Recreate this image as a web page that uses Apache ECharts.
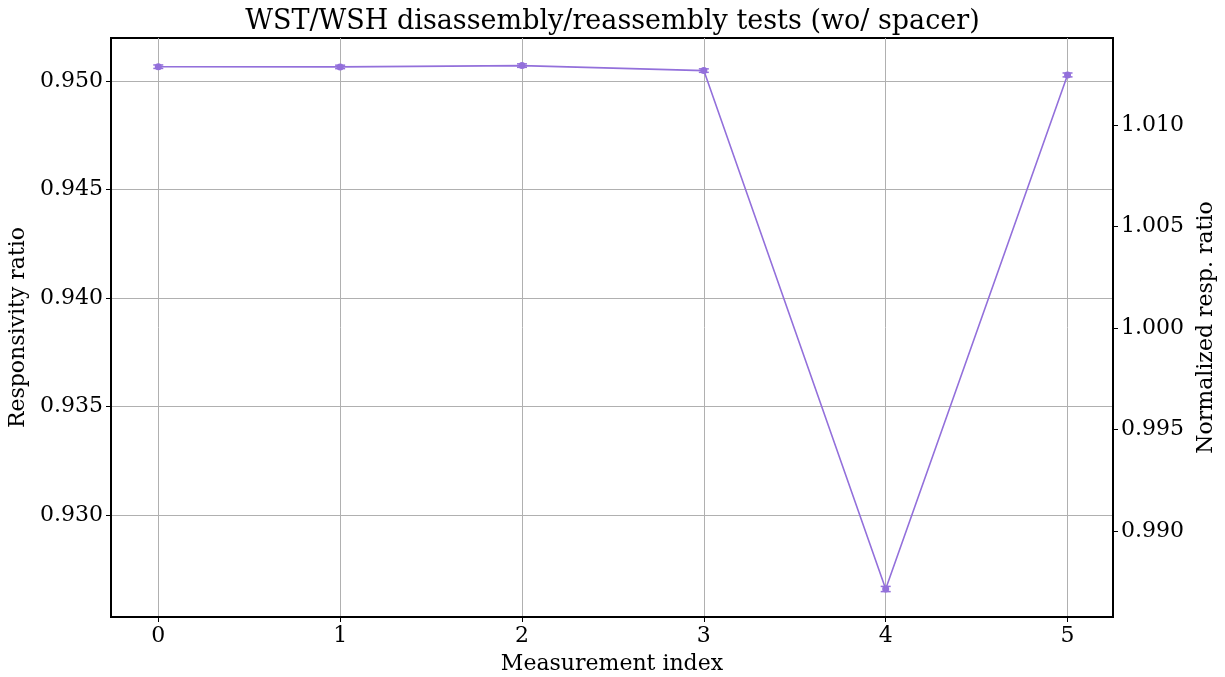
<!DOCTYPE html>
<html>
<head>
<meta charset="utf-8">
<script src="https://cdn.jsdelivr.net/npm/echarts@6/dist/echarts.min.js"></script>
<style>
  html, body { margin: 0; padding: 0; background: #fff; }
  #chart { width: 1225px; height: 677px; }
</style>
</head>
<body>
<div id="chart"></div>
<script>
// measurement data
var indices = [0, 1, 2, 3, 4, 5];
var ratio = [0.95066, 0.95065, 0.95071, 0.95048, 0.92659, 0.95028];
var ratioErr = [0.00008, 0.00008, 0.00008, 0.00008, 0.00012, 0.00009];

// tick labels
var xTicks = [0, 1, 2, 3, 4, 5];
var leftTicks = [0.930, 0.935, 0.940, 0.945, 0.950];
var rightTicks = [0.990, 0.995, 1.000, 1.005, 1.010];

var purple = '#9370DB';
var font = 'DejaVu Serif';

var chart = echarts.init(document.getElementById('chart'));

var points = indices.map(function (x, i) { return [x, ratio[i], ratioErr[i]]; });

chart.setOption({
  animation: false,
  title: {
    text: 'WST/WSH disassembly/reassembly tests (wo/ spacer)',
    left: 'center',
    top: 3,
    textStyle: { fontFamily: font, fontSize: 27, fontWeight: 'normal', color: '#000' }
  },
  grid: {
    left: 111, right: 112, top: 38, bottom: 60,
    outerBoundsMode: 'none',
    containLabel: false,
    show: true, borderColor: '#000', borderWidth: 2, backgroundColor: '#fff'
  },
  xAxis: {
    type: 'value',
    min: -0.26, max: 5.25,
    name: 'Measurement index',
    nameLocation: 'middle',
    nameGap: 36,
    nameTextStyle: { fontFamily: font, fontSize: 22, color: '#000' },
    axisLine: { show: true, onZero: false, lineStyle: { color: '#000', width: 2 } },
    axisTick: { show: true, customValues: xTicks, length: 5, lineStyle: { color: '#000' } },
    axisLabel: { customValues: xTicks, fontFamily: font, fontSize: 22, color: '#000', margin: 8 },
    splitLine: { show: true, lineStyle: { color: '#b0b0b0', width: 1 } }
  },
  yAxis: [{
    type: 'value',
    min: 0.925300, max: 0.951982,
    name: 'Responsivity ratio',
    nameLocation: 'middle',
    nameGap: 80,
    nameTextStyle: { fontFamily: font, fontSize: 22, color: '#000' },
    axisLine: { show: true, onZero: false, lineStyle: { color: '#000', width: 2 } },
    axisTick: { show: true, customValues: leftTicks, length: 5, lineStyle: { color: '#000' } },
    axisLabel: {
      customValues: leftTicks, fontFamily: font, fontSize: 22, color: '#000', margin: 8,
      formatter: function (v) { return v.toFixed(3); }
    },
    splitLine: { show: true, lineStyle: { color: '#b0b0b0', width: 1 } }
  }, {
    type: 'value',
    min: 0.985764, max: 1.014286,
    position: 'right',
    name: 'Normalized resp. ratio',
    nameLocation: 'middle',
    nameGap: 78,
    nameRotate: 90,
    nameTextStyle: { fontFamily: font, fontSize: 22, color: '#000' },
    axisLine: { show: true, onZero: false, lineStyle: { color: '#000', width: 2 } },
    axisTick: { show: true, customValues: rightTicks, length: 5, lineStyle: { color: '#000' } },
    axisLabel: {
      customValues: rightTicks, fontFamily: font, fontSize: 22, color: '#000', margin: 8,
      formatter: function (v) { return v.toFixed(3); }
    },
    splitLine: { show: false }
  }],
  series: [{
    type: 'line',
    yAxisIndex: 0,
    data: points.map(function (p) { return [p[0], p[1]]; }),
    symbol: 'circle',
    symbolSize: 7,
    itemStyle: { color: purple },
    lineStyle: { color: purple, width: 1.6 },
    z: 3
  }, {
    type: 'custom',
    yAxisIndex: 0,
    data: points,
    z: 4,
    renderItem: function (params, api) {
      var x = api.value(0), y = api.value(1), e = api.value(2);
      var hi = api.coord([x, y + e]);
      var lo = api.coord([x, y - e]);
      var w = 5;
      var style = { stroke: purple, lineWidth: 1.5 };
      return {
        type: 'group',
        children: [
          { type: 'line', shape: { x1: hi[0], y1: hi[1], x2: lo[0], y2: lo[1] }, style: style },
          { type: 'line', shape: { x1: hi[0] - w, y1: hi[1], x2: hi[0] + w, y2: hi[1] }, style: style },
          { type: 'line', shape: { x1: lo[0] - w, y1: lo[1], x2: lo[0] + w, y2: lo[1] }, style: style }
        ]
      };
    }
  }]
});
</script>
</body>
</html>
